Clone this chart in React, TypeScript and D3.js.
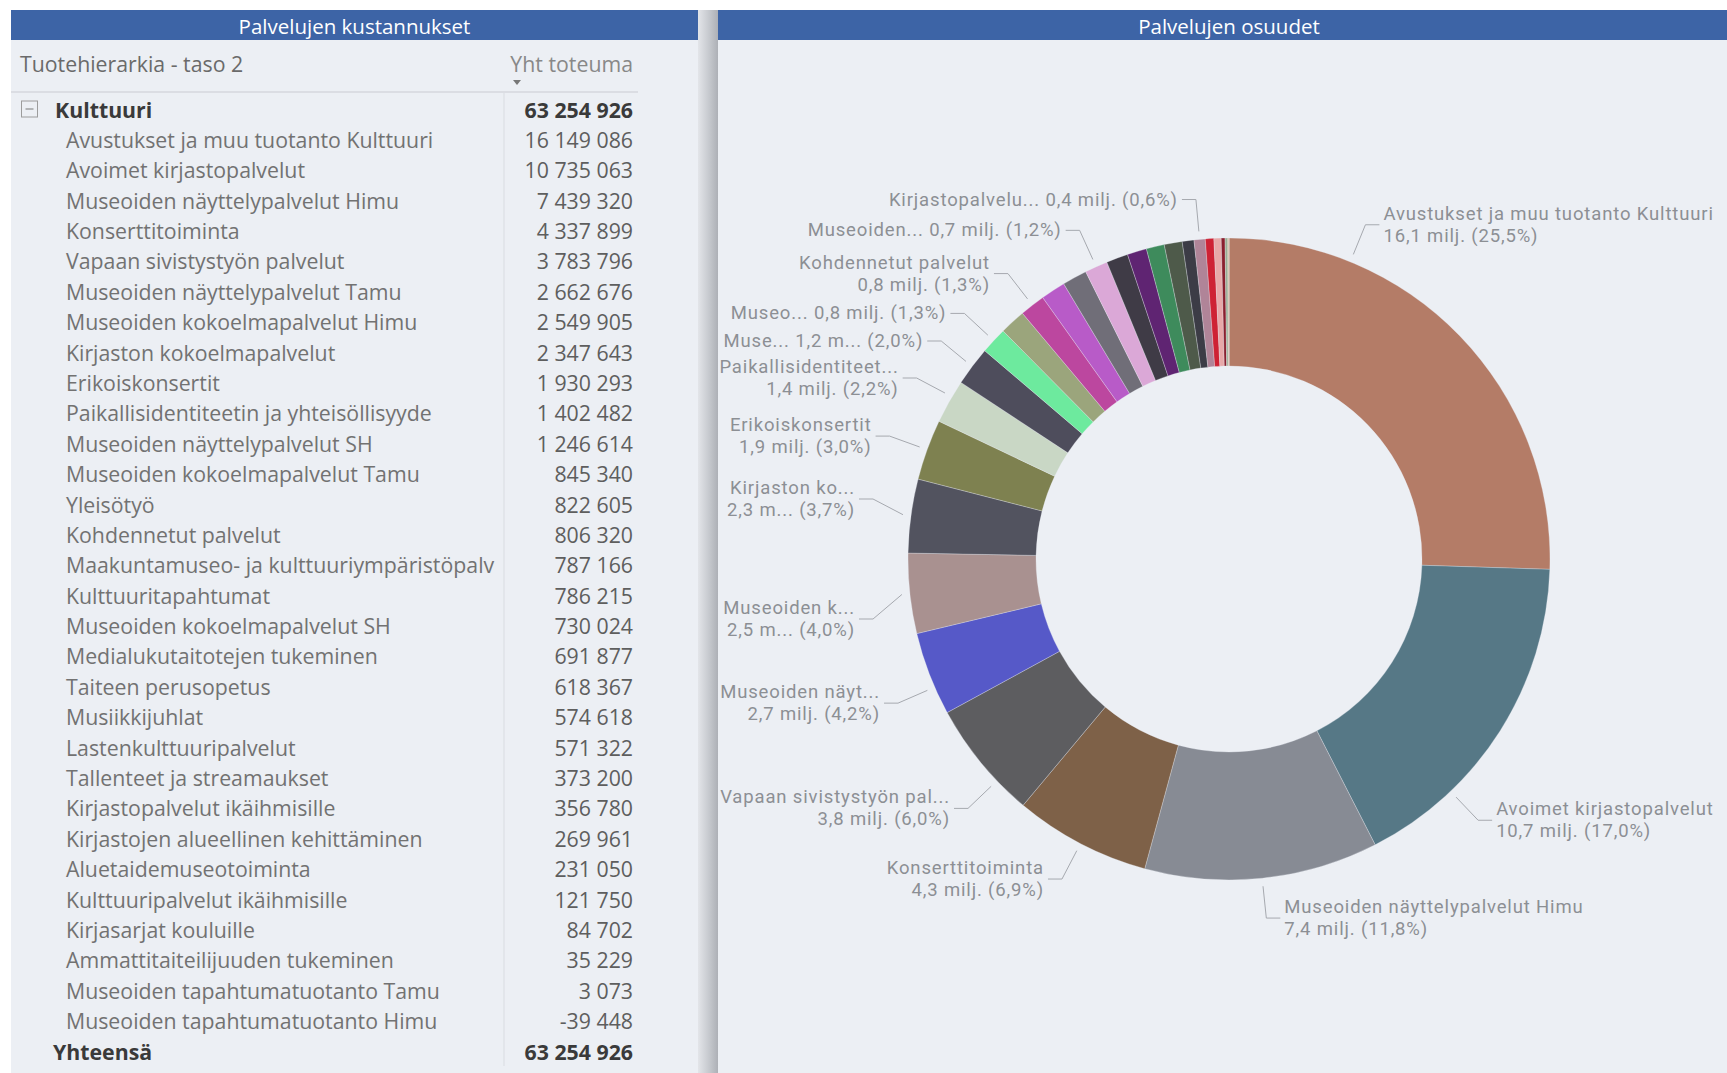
import React, { useRef, useEffect } from 'react';
import * as d3 from 'd3';

// level 2 of the product hierarchy under "Kulttuuri", sorted by total
const categories = [
  'Avustukset ja muu tuotanto Kulttuuri',
  'Avoimet kirjastopalvelut',
  'Museoiden näyttelypalvelut Himu',
  'Konserttitoiminta',
  'Vapaan sivistystyön palvelut',
  'Museoiden näyttelypalvelut Tamu',
  'Museoiden kokoelmapalvelut Himu',
  'Kirjaston kokoelmapalvelut',
  'Erikoiskonsertit',
  'Paikallisidentiteetin ja yhteisöllisyyde',
  'Museoiden näyttelypalvelut SH',
  'Museoiden kokoelmapalvelut Tamu',
  'Yleisötyö',
  'Kohdennetut palvelut',
  'Maakuntamuseo- ja kulttuuriympäristöpalv',
  'Kulttuuritapahtumat',
  'Museoiden kokoelmapalvelut SH',
  'Medialukutaitotejen tukeminen',
  'Taiteen perusopetus',
  'Musiikkijuhlat',
  'Lastenkulttuuripalvelut',
  'Tallenteet ja streamaukset',
  'Kirjastopalvelut ikäihmisille',
  'Kirjastojen alueellinen kehittäminen',
  'Aluetaidemuseotoiminta',
  'Kulttuuripalvelut ikäihmisille',
  'Kirjasarjat kouluille',
  'Ammattitaiteilijuuden tukeminen',
  'Museoiden tapahtumatuotanto Tamu',
  'Museoiden tapahtumatuotanto Himu',
];
const values = [
  16149086, 10735063, 7439320, 4337899, 3783796, 2662676, 2549905, 2347643,
  1930293, 1402482, 1246614, 845340, 822605, 806320, 787166, 786215, 730024,
  691877, 618367, 574618, 571322, 373200, 356780, 269961, 231050, 121750,
  84702, 35229, 3073, -39448,
];
const groupName = 'Kulttuuri';
const totalName = 'Yhteensä';
const totalValue = 63254926;

const sliceColors = [
  '#B47C67', '#567886', '#878B94', '#7E6148', '#5D5D60', '#5659C8',
  '#A99190', '#52535F', '#7E8150', '#C9D7C5', '#4E4D5C', '#6DEA9E',
  '#9BA57C', '#BC479F', '#B85BC8', '#706E78', '#DBA8D7', '#3F3B46',
  '#5F2472', '#3E8B5C', '#4E5A4A', '#3C3C46', '#B08498', '#CE2234',
  '#E7A8A8', '#8A1F2E', '#9AAE94', '#D0A070', '#C0C0C0', '#C0C0C0',
];

// data labels as the donut shows them (truncated names, line count, cut unit)
const labelNames = [
  'Avustukset ja muu tuotanto Kulttuuri', 'Avoimet kirjastopalvelut',
  'Museoiden näyttelypalvelut Himu', 'Konserttitoiminta',
  'Vapaan sivistystyön pal...', 'Museoiden näyt...', 'Museoiden k...',
  'Kirjaston ko...', 'Erikoiskonsertit', 'Paikallisidentiteet...', 'Muse...',
  'Museo...', '', 'Kohdennetut palvelut', '', '', 'Museoiden...', '', '', '',
  '', '', 'Kirjastopalvelu...', '', '', '', '', '', '', '',
];
const labelRows = [2, 2, 2, 2, 2, 2, 2, 2, 2, 2, 1, 1, 0, 2, 0, 0, 1, 0, 0, 0, 0, 0, 1, 0, 0, 0, 0, 0, 0, 0];
const labelShortUnit = [0, 0, 0, 0, 0, 0, 1, 1, 0, 0, 1, 0, 0, 0, 0, 0, 0, 0, 0, 0, 0, 0, 0, 0, 0, 0, 0, 0, 0, 0];

const W = 1727;
const H = 1073;

const fi = d3.formatLocale({
  decimal: ',',
  thousands: '\u00a0',
  grouping: [3],
  currency: ['', ' €'],
  minus: '-',
});
const fmtInt = fi.format(',d');
const fmtMil = fi.format('.1f');
const fmtPct = fi.format('.1%');

const tableFont = '"Open Sans", sans-serif';
const labelFont = 'Roboto, sans-serif';

const App = () => {
  const ref = useRef<SVGSVGElement>(null);

  useEffect(() => {
    const svg = d3.select(ref.current);
    svg.selectAll('*').remove();

    //panels
    const left = { x0: 11, x1: 698 };
    const right = { x0: 718, x1: 1740 };
    const top = 10;
    const headH = 30;

    const defs = svg.append('defs');
    const grad = defs.append('linearGradient').attr('id', 'shade');
    grad.append('stop').attr('offset', 0).attr('stop-color', '#E3E5E9');
    grad.append('stop').attr('offset', 0.55).attr('stop-color', '#C6C9CE');
    grad.append('stop').attr('offset', 1).attr('stop-color', '#ADB0B6');
    defs.append('clipPath').attr('id', 'nameclip')
      .append('rect').attr('x', 0).attr('y', 0).attr('width', 500).attr('height', H);

    svg.append('rect').attr('width', W).attr('height', H).attr('fill', '#ffffff');
    svg.append('rect').attr('x', left.x1).attr('y', top).attr('width', right.x0 - left.x1)
      .attr('height', H - top).attr('fill', 'url(#shade)');

    [left, right].forEach(p => {
      svg.append('rect').attr('x', p.x0).attr('y', top + headH).attr('width', p.x1 - p.x0)
        .attr('height', H - top - headH).attr('fill', '#ECEFF4');
      svg.append('rect').attr('x', p.x0).attr('y', top).attr('width', p.x1 - p.x0)
        .attr('height', headH).attr('fill', '#3D64A6');
    });

    svg.append('text').attr('x', (left.x0 + left.x1) / 2).attr('y', top + headH / 2 + 1)
      .attr('text-anchor', 'middle').attr('dominant-baseline', 'central')
      .style('font-family', tableFont).style('font-size', '20.5px').style('fill', '#ffffff')
      .text('Palvelujen kustannukset');
    svg.append('text').attr('x', (right.x0 + right.x1) / 2).attr('y', top + headH / 2 + 1)
      .attr('text-anchor', 'middle').attr('dominant-baseline', 'central')
      .style('font-family', tableFont).style('font-size', '20.5px').style('fill', '#ffffff')
      .text('Palvelujen osuudet');

    //table
    const valRight = 633;
    const colSep = 504;
    const rowKeys = ['__group', ...categories, '__total'];
    const y = d3.scalePoint().domain(rowKeys).range([109, 1051]);

    const tbl = svg.append('g').style('font-family', tableFont).style('font-size', '21.3px');

    tbl.append('text').attr('x', 20).attr('y', 63).attr('dominant-baseline', 'central')
      .style('fill', '#6A6A6A').text('Tuotehierarkia - taso 2');
    tbl.append('text').attr('x', valRight).attr('y', 63).attr('dominant-baseline', 'central')
      .attr('text-anchor', 'end').style('fill', '#888888').text('Yht toteuma');
    tbl.append('path').attr('d', 'M513,80 L521,80 L517,85 Z').attr('fill', '#777777');
    tbl.append('line').attr('x1', left.x0).attr('x2', 638).attr('y1', 92).attr('y2', 92)
      .attr('stroke', '#C9CCD2').attr('stroke-width', 1.2);
    tbl.append('line').attr('x1', colSep).attr('x2', colSep).attr('y1', 93).attr('y2', 1066)
      .attr('stroke', '#D9DCE1').attr('stroke-width', 1);

    //group row with collapse box
    const gy = y('__group')!;
    tbl.append('rect').attr('x', 21.5).attr('y', gy - 8).attr('width', 16).attr('height', 16)
      .attr('fill', 'none').attr('stroke', '#9C9C9C').attr('stroke-width', 1);
    tbl.append('line').attr('x1', 25.5).attr('x2', 33.5).attr('y1', gy).attr('y2', gy)
      .attr('stroke', '#8C8C8C').attr('stroke-width', 1.2);
    tbl.append('text').attr('x', 55).attr('y', gy).attr('dominant-baseline', 'central')
      .style('font-weight', 700).style('fill', '#3A3A3A').text(groupName);
    tbl.append('text').attr('x', valRight).attr('y', gy).attr('dominant-baseline', 'central')
      .attr('text-anchor', 'end').style('font-weight', 700).style('fill', '#3A3A3A')
      .text(fmtInt(totalValue));

    const rows = tbl.selectAll('g.row').data(categories).join('g').attr('class', 'row');
    rows.append('text').attr('x', 66).attr('y', d => y(d)!).attr('dominant-baseline', 'central')
      .attr('clip-path', 'url(#nameclip)').style('fill', '#727272').text(d => d);
    rows.append('text').attr('x', valRight).attr('y', d => y(d)!).attr('dominant-baseline', 'central')
      .attr('text-anchor', 'end').style('fill', '#5E5E5E').text((d, i) => fmtInt(values[i]));

    const ty = y('__total')!;
    tbl.append('text').attr('x', 53).attr('y', ty).attr('dominant-baseline', 'central')
      .style('font-weight', 700).style('fill', '#3A3A3A').text(totalName);
    tbl.append('text').attr('x', valRight).attr('y', ty).attr('dominant-baseline', 'central')
      .attr('text-anchor', 'end').style('font-weight', 700).style('fill', '#3A3A3A')
      .text(fmtInt(totalValue));

    //donut
    const cx = (right.x0 + right.x1) / 2;
    const cy = 559;
    const R = 321;
    const r0 = 193;

    const slices = categories.map((c, i) => ({ c, v: values[i], i })).filter(d => d.v > 0);
    const share = d3.sum(slices, d => d.v);
    const pie = d3.pie<any>().sort(null).value(d => d.v);
    const arcs = pie(slices);
    const arc = d3.arc<any>().innerRadius(r0).outerRadius(R);

    const g = svg.append('g').attr('transform', `translate(${cx},${cy})`);
    g.selectAll('path').data(arcs).join('path')
      .attr('d', arc)
      .attr('fill', d => sliceColors[d.data.i])
      .attr('stroke', '#ECEFF4').attr('stroke-width', 0.3);

    //data labels
    const re = R + 40;
    const seg = 14;
    const gap = 4;
    const lineH = 22;
    const lb = svg.append('g').style('font-family', labelFont).style('font-size', '18.5px')
      .style('letter-spacing', '0.85px').style('fill', '#8C8F94');

    const probe = lb.append('text');
    const textW = (s: string) => { probe.text(s); return (probe.node() as SVGTextElement).getComputedTextLength(); };

    const labels: any[] = [];
    arcs.forEach(a => {
      const i = a.data.i;
      if (!labelRows[i]) return;
      const val = `${fmtMil(values[i] / 1e6)} ${labelShortUnit[i] ? 'm...' : 'milj.'} (${fmtPct(values[i] / share)})`;
      const lines = labelRows[i] === 2 ? [labelNames[i], val] : [`${labelNames[i]} ${val}`];
      const w = d3.max(lines, textW)!;
      const mid = (a.startAngle + a.endAngle) / 2;
      const side = Math.sin(mid) < 0 ? -1 : 1;
      const fits = (t: number) => {
        const ex = cx + re * Math.sin(t);
        return side > 0 ? ex + seg + gap + w <= 1714 : ex - seg - gap - w >= 720;
      };
      //slide along the slice until the text fits in the panel
      let t = mid;
      for (let k = 0; k < 400; k++) {
        const dt = k * 0.002;
        if (mid - dt >= a.startAngle && fits(mid - dt)) { t = mid - dt; break; }
        if (mid + dt <= a.endAngle && fits(mid + dt)) { t = mid + dt; break; }
      }
      labels.push({ i, lines, side, t, y: cy - re * Math.cos(t), h: lines.length * lineH });
    });
    probe.remove();

    [-1, 1].forEach(side => {
      const list = labels.filter(l => l.side === side).sort((a, b) => a.y - b.y);
      if (side < 0) list.forEach(l => { if (Math.abs(l.y - cy) < 60) l.y = cy + (l.y < cy ? -60 : 60); });
      for (let it = 0; it < 300; it++) {
        let moved = false;
        for (let k = 0; k < list.length - 1; k++) {
          const a = list[k], b = list[k + 1];
          const need = (a.h + b.h) / 2 + 4;
          if (b.y - a.y < need - 0.01) {
            const s = (need - (b.y - a.y)) / 2;
            a.y -= s; b.y += s; moved = true;
          }
        }
        if (!moved) break;
      }
    });

    labels.forEach(l => {
      const dy = l.y - cy;
      const ex = cx + l.side * Math.sqrt(Math.max(re * re - dy * dy, 0));
      const sx = cx + (R + 8) * Math.sin(l.t);
      const sy = cy - (R + 8) * Math.cos(l.t);
      lb.append('path')
        .attr('d', `M${sx},${sy} L${ex},${l.y} L${ex + l.side * seg},${l.y}`)
        .attr('fill', 'none').attr('stroke', '#A6A9AF').attr('stroke-width', 1);
      const tx = ex + l.side * (seg + gap);
      l.lines.forEach((s: string, k: number) => {
        lb.append('text').attr('x', tx)
          .attr('y', l.y + (k - (l.lines.length - 1) / 2) * lineH)
          .attr('dominant-baseline', 'central')
          .attr('text-anchor', l.side < 0 ? 'end' : 'start')
          .text(s);
      });
    });
  }, []);

  return (
    <svg ref={ref} width={W} height={H}
      style={{ position: 'absolute', left: 0, top: 0, display: 'block' }} />
  );
};

export default App;
